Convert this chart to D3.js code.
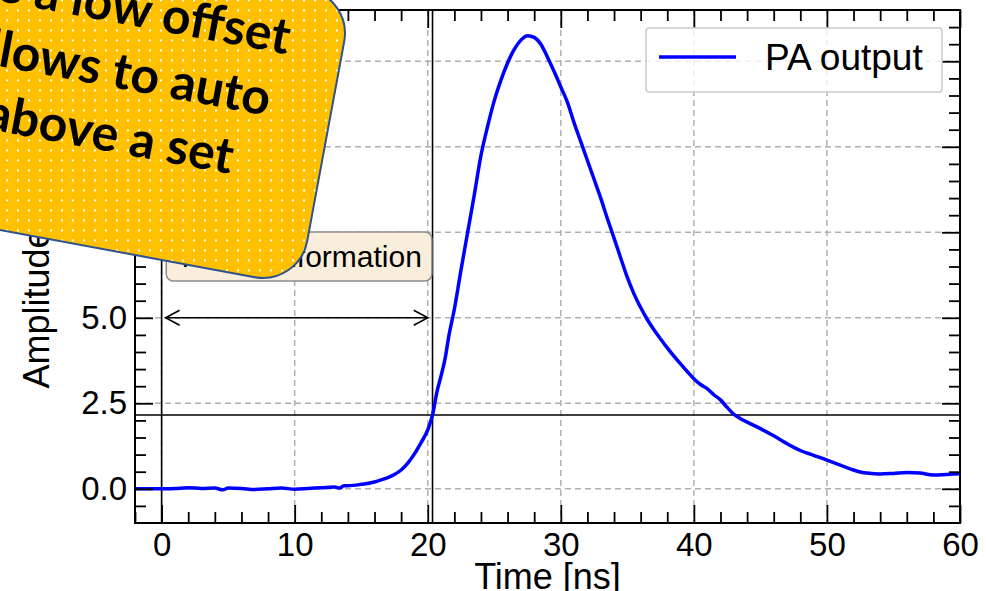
<!DOCTYPE html>
<html>
<head>
<meta charset="utf-8">
<script src="https://cdn.jsdelivr.net/npm/d3@7"></script>
<style>
  html, body { margin: 0; padding: 0; background: #fff; }
  svg { display: block; }
</style>
</head>
<body>
<svg id="chart" width="986" height="591"></svg>
<script>
// Preamplifier output pulse (time in ns, amplitude in mV)
const timeNs = [
  -2, -1, 0, 1, 2, 3, 4, 4.6, 5, 6, 7, 8, 9, 10, 11, 12, 13, 13.4, 13.7, 14,
  15, 16, 16.5, 17, 17.5, 18, 18.5, 19, 19.5, 20, 20.36, 20.7, 21, 21.3, 21.6,
  22, 22.5, 23, 23.5, 24, 24.5, 25, 25.5, 26, 26.5, 27, 27.5, 28, 28.5, 29,
  29.5, 30, 30.5, 31, 31.5, 32, 32.5, 33, 33.5, 34, 34.5, 35, 35.5, 36, 36.5,
  37, 37.5, 38, 39, 39.5, 40, 40.5, 41, 41.5, 42, 42.5, 43, 43.5, 44, 45, 46,
  47, 48, 49, 50, 51, 52, 52.5, 53, 54, 55, 56, 57, 58, 59, 60
];
const amplitudeMv = [
  0.00, 0.00, 0.00, 0.01, 0.03, 0.01, 0.02, -0.03, 0.02, 0.01, -0.02, 0.00, 0.02, -0.01, 0.01, 0.03, 0.05, 0.02, 0.09, 0.09,
  0.13, 0.20, 0.26, 0.33, 0.42, 0.55, 0.75, 1.02, 1.35, 1.72, 2.16, 2.85, 3.30, 3.80, 4.50,
  5.25, 6.40, 7.50, 8.60, 9.75, 10.60, 11.35, 11.95, 12.45, 12.85, 13.12, 13.25, 13.20, 13.00, 12.62,
  12.20, 11.75, 11.30, 10.70, 10.15, 9.60, 9.05, 8.50, 7.90, 7.33, 6.75, 6.18, 5.70, 5.30, 4.95,
  4.65, 4.38, 4.12, 3.65, 3.43, 3.22, 3.05, 2.93, 2.75, 2.60, 2.38, 2.18, 2.05, 1.95, 1.76, 1.55,
  1.32, 1.12, 0.98, 0.84, 0.69, 0.55, 0.49, 0.46, 0.43, 0.45, 0.48, 0.46, 0.40, 0.42, 0.44
];

const xMajorTicks = [0, 10, 20, 30, 40, 50, 60];
const xMinorTicks = [-2, 2, 4, 6, 8, 12, 14, 16, 18, 22, 24, 26, 28, 32, 34, 36, 38, 42, 44, 46, 48, 52, 54, 56, 58];
const yMajorTicks = [0, 2.5, 5, 7.5, 10, 12.5];
const yTickLabels = ["0.0", "2.5", "5.0", "7.5", "10.0", "12.5"];
const yMinorTicks = [-0.5, 0.5, 1, 1.5, 2, 3, 3.5, 4, 4.5, 5.5, 6, 6.5, 7, 8, 8.5, 9, 9.5, 10.5, 11, 11.5, 12, 13, 13.5];

const seriesName = "PA output";
const xTitle = "Time [ns]";
const yTitle = "Amplitude [mV]";

// trigger threshold and the time the pulse crosses it
const thresholdMv = 2.16;
const crossingNs = 20.36;
// double arrow marking the delay from t = 0 to the crossing
const arrowFromNs = 0.3;
const arrowToNs = 20.0;
const arrowLevelMv = 5.0;
const timingLabel = "Timing information";
const timingLabelAt = [10.33, 6.8];

// callout note
const noteLines = ["We use a low offset", "which allows to auto", "trigger above a set"];

const svg = d3.select("#chart");
const W = 986, H = 591;
const plot = { left: 135, right: 960, top: 10, bottom: 523 };

const x = d3.scaleLinear().domain([-2, 60]).range([plot.left, plot.right]);
const y = d3.scaleLinear().domain([-1, 14]).range([plot.bottom, plot.top]);

const FONT = "'Liberation Sans', Arial, Helvetica, sans-serif";

svg.append("defs").append("clipPath").attr("id", "plotClip")
  .append("rect")
  .attr("x", plot.left).attr("y", plot.top)
  .attr("width", plot.right - plot.left).attr("height", plot.bottom - plot.top);

// dashed grid
const grid = svg.append("g").attr("stroke", "#b0b0b0").attr("stroke-width", 1.5)
  .attr("stroke-dasharray", "6,4").attr("fill", "none");
grid.selectAll("line.gx").data(xMajorTicks).join("line")
  .attr("x1", d => x(d)).attr("x2", d => x(d))
  .attr("y1", plot.top).attr("y2", plot.bottom);
grid.selectAll("line.gy").data(yMajorTicks).join("line")
  .attr("y1", d => y(d)).attr("y2", d => y(d))
  .attr("x1", plot.left).attr("x2", plot.right);

// reference lines: t = 0, crossing time, threshold
const refs = svg.append("g").attr("stroke", "#000").attr("stroke-width", 1.6);
refs.selectAll("line.v").data([0, crossingNs]).join("line")
  .attr("x1", d => x(d)).attr("x2", d => x(d))
  .attr("y1", plot.top).attr("y2", plot.bottom);
refs.append("line")
  .attr("x1", plot.left).attr("x2", plot.right)
  .attr("y1", y(thresholdMv)).attr("y2", y(thresholdMv));

// waveform
const line = d3.line().x((d, i) => x(timeNs[i])).y(d => y(d)).curve(d3.curveMonotoneX);
svg.append("path")
  .datum(amplitudeMv)
  .attr("clip-path", "url(#plotClip)")
  .attr("fill", "none").attr("stroke", "#0000ff").attr("stroke-width", 3.5)
  .attr("stroke-linejoin", "round")
  .attr("d", line);

// double-headed arrow
const ay = y(arrowLevelMv), ax1 = x(arrowFromNs), ax2 = x(arrowToNs);
const arrow = svg.append("g").attr("stroke", "#000").attr("stroke-width", 1.6).attr("fill", "none");
arrow.append("line").attr("x1", ax1).attr("x2", ax2).attr("y1", ay).attr("y2", ay);
arrow.append("path").attr("d", `M${ax1 + 14},${ay - 7.5}L${ax1},${ay}L${ax1 + 14},${ay + 7.5}`);
arrow.append("path").attr("d", `M${ax2 - 14},${ay - 7.5}L${ax2},${ay}L${ax2 - 14},${ay + 7.5}`);

// annotation box
const annot = svg.append("g");
const annotText = annot.append("text")
  .attr("x", x(timingLabelAt[0])).attr("y", y(timingLabelAt[1]))
  .attr("text-anchor", "middle").attr("dy", "0.36em")
  .attr("font-family", FONT).attr("font-size", 30).attr("fill", "#000")
  .text(timingLabel);
const bb = annotText.node().getBBox();
annot.insert("rect", "text")
  .attr("x", bb.x - 10).attr("y", bb.y - 8)
  .attr("width", bb.width + 20).attr("height", bb.height + 16)
  .attr("rx", 7).attr("fill", "#f9eedb").attr("stroke", "#8c8c8c").attr("stroke-width", 1.5);

// axes (ticks point inward)
function styleAxis(g) {
  g.select(".domain").remove();
  g.selectAll(".tick line").attr("stroke", "#000").attr("stroke-width", 1.8);
  g.selectAll(".tick text").attr("font-family", FONT).attr("font-size", 33).attr("fill", "#000");
}
svg.append("g").attr("transform", `translate(0,${plot.bottom})`)
  .call(d3.axisBottom(x).tickValues(xMajorTicks).tickSize(-18).tickPadding(10).tickFormat(d3.format("d")))
  .call(styleAxis);
svg.append("g").attr("transform", `translate(0,${plot.bottom})`)
  .call(d3.axisBottom(x).tickValues(xMinorTicks).tickSize(-11).tickFormat(""))
  .call(styleAxis);
svg.append("g").attr("transform", `translate(0,${plot.top})`)
  .call(d3.axisTop(x).tickValues(xMajorTicks).tickSize(-18).tickFormat(""))
  .call(styleAxis);
svg.append("g").attr("transform", `translate(0,${plot.top})`)
  .call(d3.axisTop(x).tickValues(xMinorTicks).tickSize(-11).tickFormat(""))
  .call(styleAxis);
svg.append("g").attr("transform", `translate(${plot.left},0)`)
  .call(d3.axisLeft(y).tickValues(yMajorTicks).tickSize(-18).tickPadding(8)
    .tickFormat((d, i) => yTickLabels[i]))
  .call(styleAxis);
svg.append("g").attr("transform", `translate(${plot.left},0)`)
  .call(d3.axisLeft(y).tickValues(yMinorTicks).tickSize(-11).tickFormat(""))
  .call(styleAxis);
svg.append("g").attr("transform", `translate(${plot.right},0)`)
  .call(d3.axisRight(y).tickValues(yMajorTicks).tickSize(-18).tickFormat(""))
  .call(styleAxis);
svg.append("g").attr("transform", `translate(${plot.right},0)`)
  .call(d3.axisRight(y).tickValues(yMinorTicks).tickSize(-11).tickFormat(""))
  .call(styleAxis);

// frame
svg.append("rect")
  .attr("x", plot.left).attr("y", plot.top)
  .attr("width", plot.right - plot.left).attr("height", plot.bottom - plot.top)
  .attr("fill", "none").attr("stroke", "#000").attr("stroke-width", 2);

// axis titles
svg.append("text")
  .attr("x", (plot.left + plot.right) / 2).attr("y", 589)
  .attr("text-anchor", "middle").attr("font-family", FONT).attr("font-size", 36)
  .text(xTitle);
svg.append("text")
  .attr("transform", `translate(48.5,${(plot.top + plot.bottom) / 2}) rotate(-90)`)
  .attr("text-anchor", "middle").attr("font-family", FONT).attr("font-size", 36)
  .text(yTitle);

// legend
const legend = svg.append("g");
legend.append("rect")
  .attr("x", 646).attr("y", 28).attr("width", 296).attr("height", 64).attr("rx", 3)
  .attr("fill", "#fff").attr("fill-opacity", 0.8).attr("stroke", "#cccccc").attr("stroke-width", 1.5);
legend.append("line")
  .attr("x1", 659).attr("x2", 736).attr("y1", 57).attr("y2", 57)
  .attr("stroke", "#0000ff").attr("stroke-width", 3.5);
legend.append("text")
  .attr("x", 765).attr("y", 70)
  .attr("font-family", FONT).attr("font-size", 37).attr("fill", "#000")
  .text(seriesName);

// callout note (rotated rounded card with dotted fill)
const defs = svg.select("defs");
const pat = defs.append("pattern").attr("id", "dots")
  .attr("patternUnits", "userSpaceOnUse").attr("width", 11).attr("height", 10)
  .attr("patternTransform", "rotate(-10.5)");
pat.append("rect").attr("width", 11).attr("height", 10).attr("fill", "#ffc000");
pat.append("rect").attr("x", 4).attr("y", 4).attr("width", 2).attr("height", 2).attr("fill", "#fff");

const note = svg.append("g").attr("transform", "translate(299,285.4) rotate(10.5)");
note.append("rect")
  .attr("x", -800).attr("y", -293).attr("width", 800).attr("height", 293).attr("rx", 45)
  .attr("fill", "url(#dots)").attr("stroke", "#2f528f").attr("stroke-width", 2);
const noteEnds = [[-54, -225], [-62, -161], [-88, -97]];
note.selectAll("text").data(noteLines).join("text")
  .attr("x", (d, i) => noteEnds[i][0]).attr("y", (d, i) => noteEnds[i][1])
  .attr("text-anchor", "end")
  .attr("font-family", "Lato, 'Open Sans', sans-serif").attr("font-weight", 700)
  .attr("font-size", 50).attr("fill", "#000")
  .text(d => d);
</script>
</body>
</html>
